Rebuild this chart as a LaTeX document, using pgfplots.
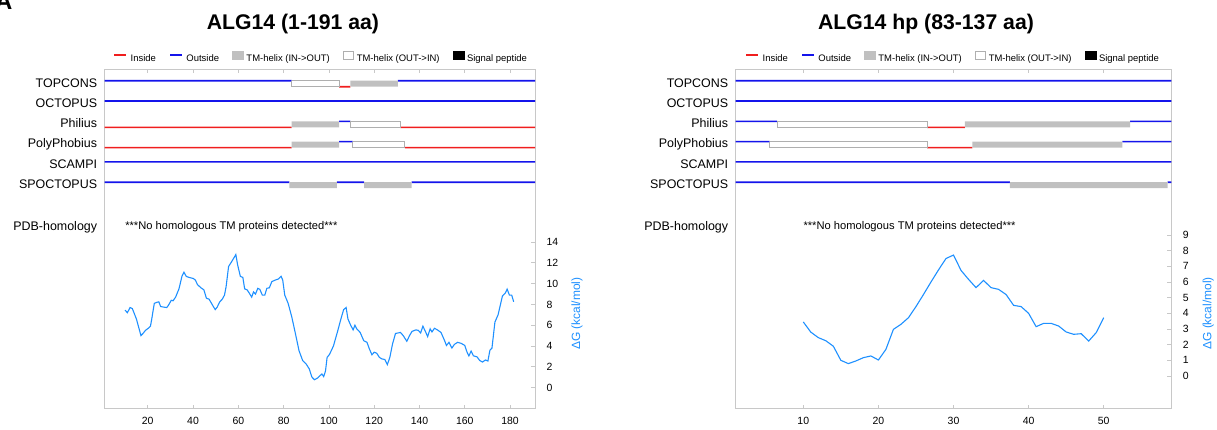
\documentclass[border=0pt]{standalone}
\usepackage{fontspec}
\setmainfont{Liberation Sans}
\usepackage{pgfplots}
\pgfplotsset{compat=1.18}

\definecolor{inred}{RGB}{240,30,30}
\definecolor{outblue}{RGB}{20,20,235}
\definecolor{tmgray}{RGB}{192,192,192}
\definecolor{boxgray}{RGB}{175,175,175}
\definecolor{framegray}{RGB}{200,200,200}
\definecolor{dgblue}{RGB}{30,144,255}

\tikzset{rowlabel/.style={anchor=base east, inner sep=0pt, font=\fontsize{12.5}{14}\selectfont}}

\pgfplotsset{
  tmio/.style={fill=tmgray, draw=none, forget plot},
  tmoi/.style={fill=white, draw=boxgray, line width=0.8bp, forget plot},
  trackaxis/.style={
    scale only axis, height=339bp,
    ymin=69.3, ymax=408.3, y dir=reverse,
    axis line style={framegray, line width=0.9bp},
    xtick pos=both, xticklabel pos=lower,
    tick align=inside, major tick length=3.5bp,
    tick style={framegray, line width=0.8bp},
    xticklabel style={anchor=base, inner sep=0pt, yshift=-16.5bp, font=\fontsize{10.5}{12}\selectfont},
    ytick=\empty,
    every axis title shift=0pt,
    title style={anchor=center, font=\fontsize{21.3}{24}\selectfont\bfseries},
    legend columns=5,
    legend cell align=left,
    legend style={anchor=west, draw=none, fill=none, inner sep=0pt,
      font=\fontsize{9.5}{11}\selectfont,
      nodes={inner sep=0pt},
      /tikz/every odd column/.append style={column sep=3bp},
      /tikz/every even column/.append style={column sep=13bp}},
    /pgf/number format/assume math mode=true,
    clip=false,
  },
  dgaxis/.style={
    scale only axis, height=339bp,
    axis line style={draw=none},
    xtick=\empty,
    ytick pos=right, yticklabel pos=right,
    tick align=inside, major tick length=4.5bp,
    tick style={framegray, line width=0.8bp},
    yticklabel style={anchor=west, inner sep=0pt, xshift=11.3bp, font=\fontsize{10.5}{12}\selectfont},
    /pgf/number format/assume math mode=true,
  },
}

% a track segment as a thin filled band: colour, x from, x to, y top, y bottom
\newcommand{\seg}[5]{\addplot[fill=#1, draw=none, forget plot] coordinates {(#2,#4) (#3,#4) (#3,#5) (#2,#5) (#2,#4)};}

\newcommand{\legendentries}{%
  \addlegendimage{legend image code/.code={\draw[inred, line width=2.5bp] (0bp,3.3bp) -- (12bp,3.3bp);}}
  \addlegendentry{Inside}
  \addlegendimage{legend image code/.code={\draw[outblue, line width=2.5bp] (0bp,3.3bp) -- (12bp,3.3bp);}}
  \addlegendentry{Outside}
  \addlegendimage{legend image code/.code={\fill[tmgray] (0bp,-0.9bp) rectangle (11bp,7.5bp);}}
  \addlegendentry{TM-helix (IN->OUT)}
  \addlegendimage{legend image code/.code={\draw[boxgray, fill=white, line width=0.8bp] (0.4bp,-0.5bp) rectangle (10.6bp,7.1bp);}}
  \addlegendentry{TM-helix (OUT->IN)}
  \addlegendimage{legend image code/.code={\fill[black] (0bp,-0.9bp) rectangle (11bp,7.5bp);}}
  \addlegendentry{Signal peptide}
}
\newcommand{\rowlabels}{%
  \node[rowlabel] at ([xshift=-7.4bp,yshift=-4.3bp]axis cs:1,82.7) {TOPCONS};
  \node[rowlabel] at ([xshift=-7.4bp,yshift=-4.3bp]axis cs:1,103) {OCTOPUS};
  \node[rowlabel] at ([xshift=-7.4bp,yshift=-4.3bp]axis cs:1,123.3) {Philius};
  \node[rowlabel] at ([xshift=-7.4bp,yshift=-4.3bp]axis cs:1,143.6) {PolyPhobius};
  \node[rowlabel] at ([xshift=-7.4bp,yshift=-4.3bp]axis cs:1,163.9) {SCAMPI};
  \node[rowlabel] at ([xshift=-7.4bp,yshift=-4.3bp]axis cs:1,184.2) {SPOCTOPUS};
  \node[rowlabel] at ([xshift=-7.4bp,yshift=-4.3bp]axis cs:1,225.7) {PDB-homology};
  \node[anchor=base west, inner sep=0pt, font=\fontsize{11.2}{13}\selectfont] at (axis cs:10,229.7) {***No homologous TM proteins detected***};
}

\begin{document}
\begin{tikzpicture}
\path[use as bounding box] (0,0) rectangle (1217bp,-430bp);
\node[anchor=base east, inner sep=0pt, font=\fontsize{24}{28}\selectfont\bfseries] at (12.5bp,-9.3bp) {A};

%================ LEFT PANEL: Delta G =================
\begin{axis}[dgaxis,
  at={(104.7bp,-69.3bp)}, anchor=north west, width=430.3bp,
  xmin=1, xmax=191, ymin=-2.003, ymax=30.637,
  ytick={0,2,...,14},
  ylabel={ΔG (kcal/mol)},
  every axis y label/.style={at={(rel axis cs:1.0976,0.279)}, rotate=90, anchor=center, font=\fontsize{12}{14}\selectfont, color=dgblue},
]
\addplot[dgblue, line width=1.1bp] coordinates {
(10,7.45) (11,7.2) (12.2,7.7) (13.2,7.6) (15,6.6) (17,5.0) (17.9,5.2) (19,5.5) (20.5,5.75) (21.2,5.9) (21.7,6.5) (22.9,8.1) (24,8.2) (24.9,8.25) (25.7,7.8) (26.8,7.75) (28.4,7.7) (29.1,7.9) (30.4,8.4) (31.2,8.35) (32.3,8.7) (33.8,9.5) (35.1,10.7) (36,11.1) (37,10.7) (38.2,10.6) (40.1,10.5) (41,10.35) (42,9.9) (43.5,9.6) (44.8,9.4) (45.9,8.6) (47.1,8.5) (48.7,7.9) (49.8,7.5) (50.7,7.75) (51.8,8.25) (52.9,8.5) (53.9,8.9) (54.6,9.7) (55.7,11.65) (57,12.1) (58.1,12.5) (58.9,12.8) (59.7,11.8) (60.9,10.7) (62,10.6) (62.8,9.5) (63.9,9.4) (64.8,9.1) (65.9,8.7) (66.7,9.2) (67.6,9.0) (68.6,9.55) (69.5,9.45) (70.6,8.9) (71.7,8.9) (72.6,9.55) (73.7,9.6) (74.8,10.2) (76.4,10.35) (77.7,10.45) (78.9,10.7) (79.6,10.35) (80.5,8.9) (82,8.1) (83.6,6.8) (85.2,5.2) (86.8,3.55) (88.4,2.6) (90,2.25) (91.3,1.8) (92.5,1.0) (93.6,0.75) (94.9,0.9) (96,1.13) (96.9,1.3) (97.7,1.05) (98.5,1.6) (99.2,2.9) (100.3,3.2) (102,4.0) (103.7,5.3) (105.3,6.6) (106.5,7.5) (107.6,7.7) (108.4,6.6) (109.6,6.0) (110.7,5.55) (111.5,6.0) (112.3,5.65) (113.8,5.3) (115.4,4.5) (116.8,4.35) (117.9,3.7) (119,3.15) (120,3.4) (121.1,3.3) (122.3,2.9) (123.4,2.75) (124.7,2.7) (125.8,2.2) (126.9,2.9) (128.1,4.2) (129.4,5.2) (130.5,5.25) (131.6,5.3) (132.8,5.0) (134.4,4.45) (135.6,5.0) (136.7,5.4) (138.4,5.55) (139.5,5.5) (140.5,5.25) (141.5,5.9) (142.6,5.4) (143.6,4.9) (144.7,5.65) (145.5,5.35) (146.6,5.7) (147.9,5.55) (149.5,5.3) (151.1,4.5) (151.9,4.05) (153,4.35) (154.3,3.8) (155.4,4.15) (156.8,4.35) (158.4,4.25) (160,4.05) (161,3.4) (161.8,3.05) (162.8,3.5) (163.8,3.05) (165.4,2.95) (166.6,2.6) (167.8,2.45) (169.1,2.65) (170.2,2.55) (171.1,3.6) (172,3.8) (173.3,6.3) (174.7,7.0) (176.6,8.8) (177.9,9.1) (178.7,9.47) (179.7,8.9) (180.7,8.9) (181.6,8.25)
};
\end{axis}

%================ LEFT PANEL: tracks =================
\begin{axis}[trackaxis,
  at={(104.7bp,-69.3bp)}, anchor=north west, width=430.3bp,
  xmin=1, xmax=191, xtick={20,40,...,180},
  title={ALG14 (1-191 aa)},
  title style={at={(rel axis cs:0.4376,1.133)}},
  legend style={at={(rel axis cs:0.0193,1.0372)}},
]
\legendentries
% TOPCONS
\seg{outblue}{1}{83.5}{79.9}{81.5}
\seg{inred}{104.5}{109.5}{85.9}{87.5}
\seg{outblue}{130.5}{191}{79.9}{81.5}
% OCTOPUS
\seg{outblue}{1}{191}{100.2}{101.8}
% Philius
\seg{inred}{1}{83.5}{126.5}{128.1}
\seg{outblue}{104.5}{109.5}{120.5}{122.1}
\seg{inred}{131.5}{191}{126.5}{128.1}
% PolyPhobius
\seg{inred}{1}{83.5}{146.8}{148.4}
\seg{outblue}{104.5}{110.5}{140.8}{142.4}
\seg{inred}{133.5}{191}{146.8}{148.4}
% SCAMPI
\seg{outblue}{1}{191}{161.1}{162.7}
% SPOCTOPUS
\seg{outblue}{1}{82.5}{181.4}{183.0}
\seg{outblue}{103.5}{115.5}{181.4}{183.0}
\seg{outblue}{136.5}{191}{181.4}{183.0}
% TM-helix boxes
\addplot[tmoi] coordinates {(83.5,80.7) (104.5,80.7) (104.5,86.7) (83.5,86.7) (83.5,80.7)};
\addplot[tmio] coordinates {(109.5,80.7) (130.5,80.7) (130.5,86.7) (109.5,86.7) (109.5,80.7)};
\addplot[tmio] coordinates {(83.5,121.3) (104.5,121.3) (104.5,127.3) (83.5,127.3) (83.5,121.3)};
\addplot[tmoi] coordinates {(109.5,121.3) (131.5,121.3) (131.5,127.3) (109.5,127.3) (109.5,121.3)};
\addplot[tmio] coordinates {(83.5,141.6) (104.5,141.6) (104.5,147.6) (83.5,147.6) (83.5,141.6)};
\addplot[tmoi] coordinates {(110.5,141.6) (133.5,141.6) (133.5,147.6) (110.5,147.6) (110.5,141.6)};
\addplot[tmio] coordinates {(82.5,182.2) (103.5,182.2) (103.5,188.2) (82.5,188.2) (82.5,182.2)};
\addplot[tmio] coordinates {(115.5,182.2) (136.5,182.2) (136.5,188.2) (115.5,188.2) (115.5,182.2)};
\rowlabels
\end{axis}

%================ RIGHT PANEL: Delta G =================
\begin{axis}[dgaxis,
  at={(735.7bp,-69.3bp)}, anchor=north west, width=435.6bp,
  xmin=1, xmax=59, ymin=-2.062, ymax=19.576,
  ytick={0,1,...,9},
  ylabel={ΔG (kcal/mol)},
  every axis y label/.style={at={(rel axis cs:1.085,0.280)}, rotate=90, anchor=center, font=\fontsize{12}{14}\selectfont, color=dgblue},
]
\addplot[dgblue, line width=1.1bp] coordinates {
(10,3.45) (11,2.8) (12,2.45) (13,2.25) (14,1.9) (15,1.0) (16,0.79) (17,0.96) (18,1.17) (19,1.28) (20,1.02) (21,1.7) (22,2.98) (23,3.3) (24,3.72) (25,4.43) (26,5.2) (27,6.0) (28,6.77) (29,7.5) (30,7.72) (31,6.74) (32,6.17) (33,5.64) (34,6.1) (35,5.64) (36,5.53) (37,5.2) (38,4.51) (39,4.43) (40,4.0) (41,3.15) (42,3.36) (43,3.36) (44,3.19) (45,2.81) (46,2.66) (47,2.7) (48,2.23) (49,2.77) (50,3.72)
};
\end{axis}

%================ RIGHT PANEL: tracks =================
\begin{axis}[trackaxis,
  at={(735.7bp,-69.3bp)}, anchor=north west, width=435.6bp,
  xmin=1, xmax=59, xtick={10,20,...,50},
  title={ALG14 hp (83-137 aa)},
  title style={at={(rel axis cs:0.4369,1.133)}},
  legend style={at={(rel axis cs:0.0213,1.0372)}},
]
\legendentries
\seg{outblue}{1}{59}{79.9}{81.5}
\seg{outblue}{1}{59}{100.2}{101.8}
% Philius
\seg{outblue}{1}{6.5}{120.5}{122.1}
\seg{inred}{26.5}{31.5}{126.5}{128.1}
\seg{outblue}{53.5}{59}{120.5}{122.1}
% PolyPhobius
\seg{outblue}{1}{5.5}{140.8}{142.4}
\seg{inred}{26.5}{32.5}{146.8}{148.4}
\seg{outblue}{52.5}{59}{140.8}{142.4}
% SCAMPI
\seg{outblue}{1}{59}{161.1}{162.7}
% SPOCTOPUS
\seg{outblue}{1}{37.5}{181.4}{183.0}
\seg{outblue}{58.5}{59}{181.4}{183.0}
% TM-helix boxes
\addplot[tmoi] coordinates {(6.5,121.3) (26.5,121.3) (26.5,127.3) (6.5,127.3) (6.5,121.3)};
\addplot[tmio] coordinates {(31.5,121.3) (53.5,121.3) (53.5,127.3) (31.5,127.3) (31.5,121.3)};
\addplot[tmoi] coordinates {(5.5,141.6) (26.5,141.6) (26.5,147.6) (5.5,147.6) (5.5,141.6)};
\addplot[tmio] coordinates {(32.5,141.6) (52.5,141.6) (52.5,147.6) (32.5,147.6) (32.5,141.6)};
\addplot[tmio] coordinates {(37.5,182.2) (58.5,182.2) (58.5,188.2) (37.5,188.2) (37.5,182.2)};
\rowlabels
\end{axis}
\end{tikzpicture}
\end{document}
